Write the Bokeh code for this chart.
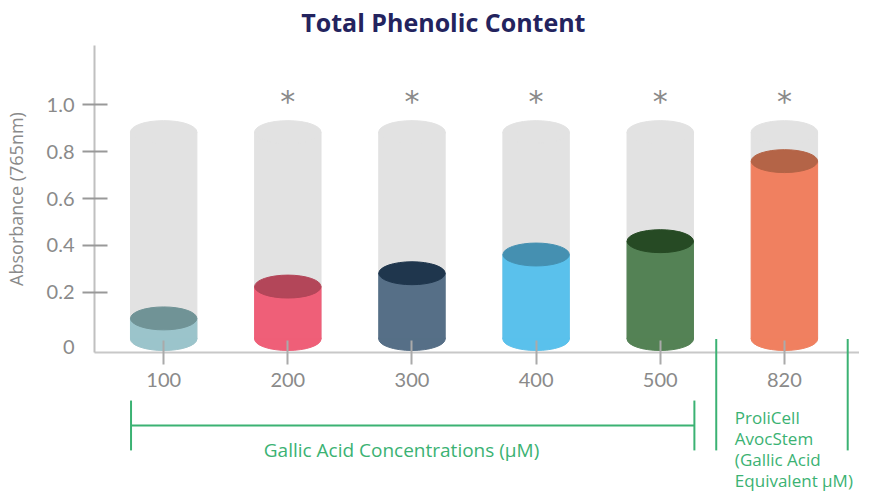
from bokeh.plotting import figure
from bokeh.models import Range1d, FixedTicker, PrintfTickFormatter, ColumnDataSource
from bokeh.core.properties import value
from bokeh.embed import file_html
from bokeh.resources import INLINE

# ---------------- data ----------------
categories = ["100", "200", "300", "400", "500", "820"]
absorbance = [0.088, 0.224, 0.281, 0.361, 0.418, 0.760]
tube_height = [0.884, 0.884, 0.884, 0.884, 0.884, 0.884]
significance = ["", "*", "*", "*", "*", "*"]
body_colors = ["#9bc4cb", "#ef5f78", "#566f87", "#5ac1ec", "#548255", "#f08060"]
cap_colors = ["#709396", "#b34659", "#1f364d", "#4590b1", "#264a24", "#b46447"]
y_ticks = [0.2, 0.4, 0.6, 0.8, 1.0]
title_text = "Total Phenolic Content"
y_label = "Absorbance (765nm)"
group_labels = ["Gallic Acid Concentrations (µM)",
                "ProliCell\nAvocStem\n(Gallic Acid\nEquivalent µM)"]

FONT = "Open Sans"
TICK_FONT = "Lato"
GREY_TXT = "#8a8a8a"
GREEN = "#3bb273"
TUBE = "#e2e2e2"
W = 0.535   # cylinder width (category units)
H = 0.098   # ellipse height (data units)

xs = list(range(len(categories)))
src = ColumnDataSource(dict(x=xs, val=absorbance, full=tube_height,
                            body=body_colors, cap=cap_colors, star=significance))

p = figure(width=859, height=492, output_backend="svg", toolbar_location=None,
           x_range=Range1d(-0.5573, 5.605), y_range=Range1d(-0.0577, 1.254),
           min_border_left=85, min_border_right=0, min_border_top=45,
           min_border_bottom=140)
p.grid.visible = False
p.outline_line_color = None
p.background_fill_color = "white"
p.border_fill_color = "white"

# background tubes
p.vbar(x="x", bottom=0, top="full", width=W, color=TUBE, source=src)
p.ellipse(x="x", y=0, width=W, height=H, color=TUBE, source=src)
p.ellipse(x="x", y="full", width=W, height=H, color=TUBE, source=src)
# filled cylinders
p.ellipse(x="x", y=0, width=W, height=H, color="body", source=src)
p.vbar(x="x", bottom=0, top="val", width=W, color="body", source=src)
p.ellipse(x="x", y="val", width=W, height=H, color="cap", source=src)

# significance stars
p.text(x="x", y=1.013, text="star", source=src, text_align="center",
       text_baseline="alphabetic", text_font=value("DejaVu Sans"),
       text_font_size="30px", text_color=GREY_TXT)

# axes
xa = p.xaxis[0]
xa.ticker = FixedTicker(ticks=xs)
xa.major_label_overrides = {i: c for i, c in enumerate(categories)}
xa.axis_line_color = "#c8c8c8"
xa.axis_line_width = 2
xa.major_tick_line_color = "#aaaaaa"
xa.major_tick_line_width = 2
xa.major_tick_in = 12
xa.major_tick_out = 12
xa.minor_tick_line_color = None
xa.major_label_standoff = 8
xa.major_label_text_font = TICK_FONT
xa.major_label_text_font_size = "20px"
xa.major_label_text_color = GREY_TXT

ya = p.yaxis[0]
ya.ticker = FixedTicker(ticks=y_ticks)
ya.formatter = PrintfTickFormatter(format="%.1f")
ya.axis_line_color = "#c0c0c0"
ya.axis_line_width = 2
ya.major_tick_line_color = "#999999"
ya.major_tick_line_width = 2
ya.major_tick_in = 13
ya.major_tick_out = 12
ya.minor_tick_line_color = None
ya.major_label_standoff = 8
ya.major_label_text_font = TICK_FONT
ya.major_label_text_font_size = "20px"
ya.major_label_text_color = GREY_TXT
ya.axis_label = y_label
ya.axis_label_text_font = FONT
ya.axis_label_text_font_style = "normal"
ya.axis_label_text_font_size = "18px"
ya.axis_label_text_color = GREY_TXT
ya.axis_label_standoff = 16

# "0" label at the axis foot
p.text(x=[-0.7166], y=[-0.036], text=["0"], level="annotation",
       text_align="right", text_baseline="middle", text_font=value(TICK_FONT),
       text_font_size="20px", text_color=GREY_TXT)

# title
p.text(x=[2.253], y=[1.354], text=[title_text], level="annotation",
       text_align="center", text_baseline="middle", text_font=value(FONT),
       text_font_style="bold", text_font_size="25px", text_color="#23235e")

# group brackets
bl, br = xs[0] - 0.263, xs[4] + 0.275
s1, s2 = xs[4] + 0.451, xs[5] + 0.51
yt, ym, yb = -0.263, -0.370, -0.476
p.multi_line(xs=[[bl, bl], [bl, br], [br, br], [s1, s1], [s2, s2]],
             ys=[[yt, yb], [ym, ym], [yt, yb], [0.0, yb], [0.0, yb]],
             line_color=GREEN, line_width=2, level="annotation")
p.text(x=[(bl + br) / 2 - 0.09], y=[yb], text=[group_labels[0]], level="annotation",
       text_align="center", text_baseline="middle", text_font=value(FONT),
       text_font_size="19px", text_color=GREEN)
p.text(x=[s1 + 0.15], y=[-0.285], text=[group_labels[1]], level="annotation",
       text_align="left", text_baseline="top", text_font=value(FONT),
       text_font_size="17px", text_color=GREEN, text_line_height=0.92)

open("out.html", "w").write(file_html(p, INLINE))
